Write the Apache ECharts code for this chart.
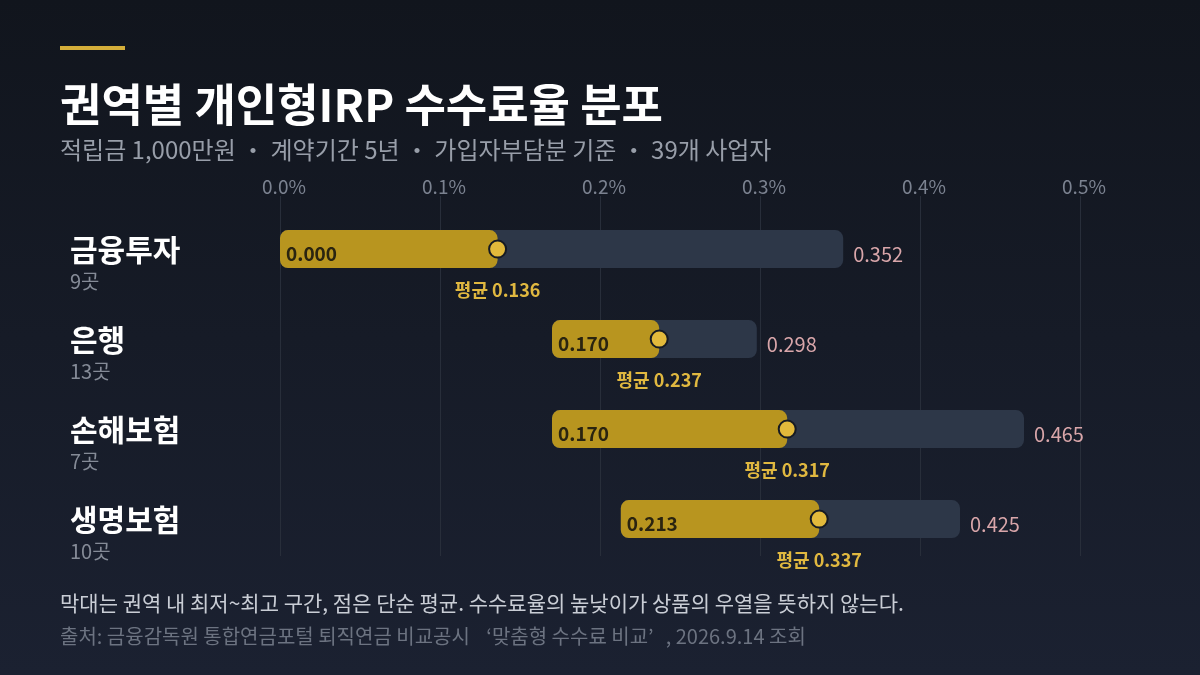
<!DOCTYPE html>
<html>
<head>
<meta charset="utf-8">
<script src="https://cdn.jsdelivr.net/npm/echarts@6/dist/echarts.min.js"></script>
<style>
html,body{margin:0;padding:0;background:#141822;}
#c{width:1200px;height:675px;}
</style>
</head>
<body>
<div id="c"></div>
<script>
const categories = ['금융투자', '은행', '손해보험', '생명보험'];
const counts = ['9곳', '13곳', '7곳', '10곳'];
const minVals = [0.000, 0.170, 0.170, 0.213];
const avgVals = [0.136, 0.237, 0.317, 0.337];
const maxVals = [0.352, 0.298, 0.465, 0.425];
const xTicks = [0, 0.1, 0.2, 0.3, 0.4, 0.5];

const FONT = '"Noto Sans CJK KR", "Noto Sans", sans-serif';
const chart = echarts.init(document.getElementById('c'));

const data = categories.map((c, i) => [i, minVals[i], avgVals[i], maxVals[i]]);

chart.setOption({
  backgroundColor: {
    type: 'linear', x: 0, y: 0, x2: 0, y2: 1,
    colorStops: [{offset: 0, color: '#11151d'}, {offset: 1, color: '#1b2131'}]
  },
  textStyle: {fontFamily: FONT},
  title: [
    {text: '권역별 개인형IRP 수수료율 분포', left: 60, top: 82, padding: 0,
     textStyle: {color: '#ffffff', fontSize: 45, fontWeight: 'bold', fontFamily: FONT}},
    {text: '적립금 1,000만원 {q|・} 계약기간 5년 {q|・} 가입자부담분 기준 {q|・} 39개 사업자', left: 60, top: 138, padding: 0,
     textStyle: {color: '#989ea9', fontSize: 24, fontWeight: 'normal', fontFamily: FONT,
       rich: {q: {fontSize: 24, color: '#989ea9', fontFamily: '"Noto Sans CJK JP", sans-serif'}}}},
    {text: '막대는 권역 내 최저~최고 구간, 점은 단순 평균. 수수료율의 높낮이가 상품의 우열을 뜻하지 않는다.', left: 60, top: 593, padding: 0,
     textStyle: {color: '#c9cdd5', fontSize: 21, fontWeight: 'normal', fontFamily: FONT}},
    {text: '출처: 금융감독원 통합연금포털 퇴직연금 비교공시 {q1|‘}맞춤형 수수료 비교{q2|’}, 2026.9.14 조회', left: 60, top: 626, padding: 0,
     textStyle: {color: '#6c7381', fontSize: 20, fontWeight: 'normal', fontFamily: FONT,
       rich: {
         q1: {fontSize: 20, color: '#6c7381', fontFamily: FONT, padding: [0, 0, 0, 12]},
         q2: {fontSize: 20, color: '#6c7381', fontFamily: FONT, padding: [0, 12, 0, 0]}
       }}}
  ],
  graphic: [
    {type: 'rect', left: 60, top: 46, shape: {width: 65, height: 4}, style: {fill: '#d4ae3a'}}
  ],
  grid: {left: 280, right: 120, top: 196, bottom: 119},
  xAxis: {
    type: 'value', position: 'top', min: 0, max: 0.5, interval: 0.1,
    axisLine: {show: false}, axisTick: {show: false},
    splitLine: {show: true, lineStyle: {color: '#282e3a', width: 1}},
    axisLabel: {color: '#7b8290', fontSize: 19, margin: 0, fontFamily: FONT, padding: [0, 0, 0, 8],
      formatter: v => (v).toFixed(1) + '%'}
  },
  yAxis: {
    type: 'value', inverse: true, min: -0.59, max: 3.41, show: false
  },
  series: [{
    type: 'custom',
    data: data,
    clip: false,
    encode: {x: [1, 2, 3], y: 0},
    renderItem: function (params, api) {
      const yi = api.value(0);
      const mn = api.value(1), av = api.value(2), mx = api.value(3);
      const pMin = api.coord([mn, yi]);
      const pAvg = api.coord([av, yi]);
      const pMax = api.coord([mx, yi]);
      const cy = pMin[1];
      const h = 38;
      const labelX = params.coordSys.x - 210;
      return {
        type: 'group',
        children: [
          {type: 'text', x: labelX, y: cy,
           style: {text: categories[params.dataIndex], fill: '#ffffff', font: 'bold 30px ' + FONT,
             textAlign: 'left', textVerticalAlign: 'middle'}},
          {type: 'text', x: labelX, y: cy + 32,
           style: {text: counts[params.dataIndex], fill: '#858b97', font: '20px ' + FONT,
             textAlign: 'left', textVerticalAlign: 'middle'}},
          {type: 'rect', shape: {x: pMin[0], y: cy - h / 2, width: pMax[0] - pMin[0], height: h, r: 8},
           style: {fill: '#2d3748'}},
          {type: 'rect', shape: {x: pMin[0], y: cy - h / 2, width: pAvg[0] - pMin[0], height: h, r: 8},
           style: {fill: '#b8951f'}},
          {type: 'circle', shape: {cx: pAvg[0], cy: cy, r: 8.5},
           style: {fill: '#e2b93b', stroke: '#161a22', lineWidth: 2}},
          {type: 'text', x: pMin[0] + 6, y: cy + 5,
           style: {text: mn.toFixed(3), fill: '#2a2410', font: 'bold 19px ' + FONT,
             textAlign: 'left', textVerticalAlign: 'middle'}},
          {type: 'text', x: pMax[0] + 10, y: cy + 5,
           style: {text: mx.toFixed(3), fill: '#d9a6aa', font: '20px ' + FONT,
             textAlign: 'left', textVerticalAlign: 'middle'}},
          {type: 'text', x: pAvg[0], y: cy + 41,
           style: {text: '평균 ' + av.toFixed(3), fill: '#e0b840', font: 'bold 18px ' + FONT,
             textAlign: 'center', textVerticalAlign: 'middle'}}
        ]
      };
    }
  }]
});
</script>
</body>
</html>
